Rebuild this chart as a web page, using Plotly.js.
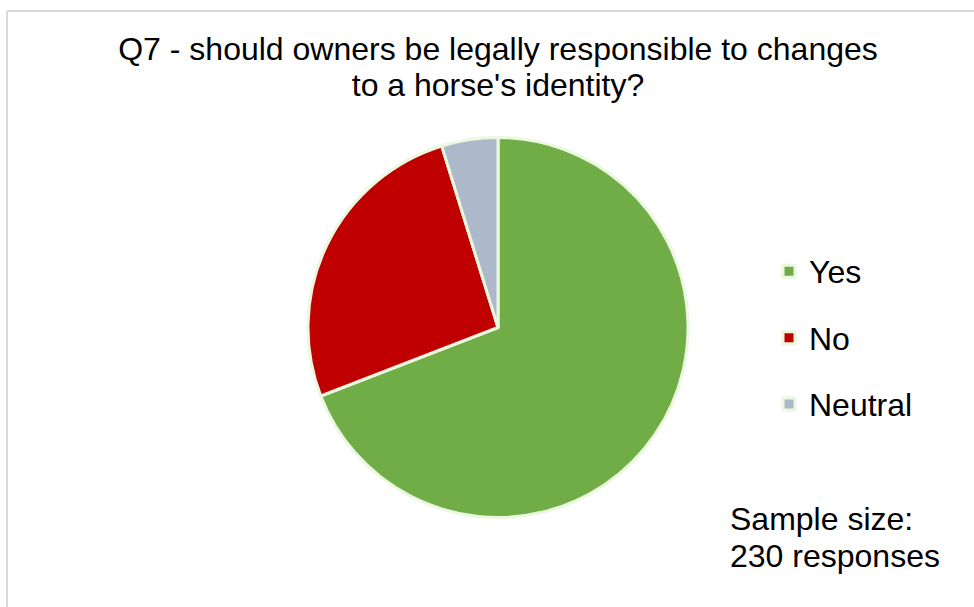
<!DOCTYPE html>
<html>
<head>
<meta charset="utf-8">
<script src="https://cdn.plot.ly/plotly-3.0.1.min.js"></script>
<style>html,body{margin:0;padding:0;background:#fff;}#chart{width:974px;height:607px;}</style>
</head>
<body>
<div id="chart"></div>
<script>
var categories = ["Yes", "No", "Neutral"];
var responses = [159, 60, 11];
var sliceColors = ["#70AD47", "#C00000", "#ADB9CA"];
var titleLines = ["Q7 - should owners be legally responsible to changes", "to a horse's identity?"];
var noteLines = ["Sample size:", "230 responses"];

var W = 974, H = 607;
var FONT = "Liberation Sans, Arial, sans-serif";

function sized(t, px, extra) {
  return "<span style=\"font-size:" + px + "px" + (extra || "") + "\">" + t + "</span>";
}

var legendLabels = categories.map(function (c) {
  return sized(c, 32, ";baseline-shift:7px");
});

var trace = {
  type: "pie",
  labels: legendLabels,
  values: responses,
  sort: false,
  direction: "clockwise",
  rotation: 0,
  textinfo: "none",
  hoverinfo: "percent+value",
  marker: { colors: sliceColors, line: { color: "#EBF7DE", width: 3 } },
  domain: { x: [308 / W, 688 / W], y: [1 - 518 / H, 1 - 137 / H] }
};

var layout = {
  width: W, height: H,
  margin: { l: 0, r: 0, t: 0, b: 0 },
  paper_bgcolor: "#ffffff",
  font: { family: FONT, color: "#000000" },
  title: {
    text: titleLines.map(function (l) { return sized(l, 32); }).join("<br>"),
    font: { family: FONT, size: 28, color: "#000000" },
    x: 498 / W, xanchor: "center", xref: "container",
    y: 1 - 60 / H, yanchor: "top", yref: "container"
  },
  showlegend: true,
  legend: {
    x: 769 / W, xanchor: "left",
    y: 1 - 233 / H, yanchor: "top",
    font: { family: FONT, size: 48.8, color: "#000000" },
    bgcolor: "rgba(0,0,0,0)"
  },
  annotations: [{
    text: noteLines.map(function (l) { return sized(l, 32); }).join("<br>"),
    showarrow: false, align: "left",
    xref: "paper", yref: "paper",
    x: 728 / W, xanchor: "left",
    y: 1 - 499 / H, yanchor: "top",
    font: { family: FONT, size: 28.5, color: "#000000" }
  }],
  shapes: [
    { type: "line", xref: "paper", yref: "paper", x0: 7 / W, x1: 7 / W, y0: 0, y1: 1 - 11 / H, line: { color: "#D9D9D9", width: 2 } },
    { type: "line", xref: "paper", yref: "paper", x0: 7 / W, x1: 1, y0: 1 - 11 / H, y1: 1 - 11 / H, line: { color: "#D9D9D9", width: 2 } }
  ]
};

Plotly.newPlot("chart", [trace], layout, { displayModeBar: false, staticPlot: true });
</script>
</body>
</html>
